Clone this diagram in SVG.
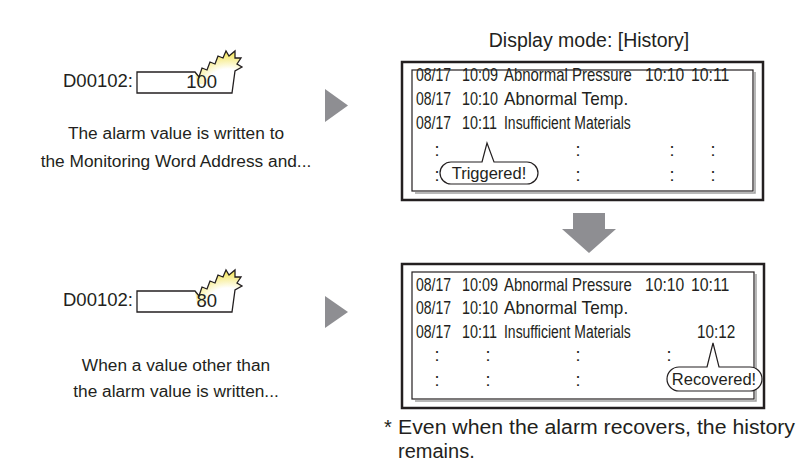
<svg xmlns="http://www.w3.org/2000/svg" width="800" height="464" viewBox="0 0 800 464">
<defs>
<radialGradient id="burst" cx="0.7" cy="0.95" r="0.9">
<stop offset="0" stop-color="#ffffff"/>
<stop offset="0.45" stop-color="#ffffff"/>
<stop offset="1" stop-color="#f3e45a"/>
</radialGradient>
<style>
text{font-family:"Liberation Sans",Arial,sans-serif;fill:#231f20}
.lbl{font-size:18.5px}
.para{font-size:17.3px;text-anchor:middle}
.tb{font-size:18px}
.col{font-size:18px;text-anchor:middle}
.bub{font-size:16.5px;text-anchor:middle}
.frame{fill:#fff;stroke:#231f20;stroke-width:2.5}
.inner{fill:#fff;stroke:#231f20;stroke-width:1.2}
.shadow{fill:none;stroke:#a0a0a0;stroke-width:1.5}
.arrow{fill:#8e8e92}
.bubble{fill:#fff;stroke:#231f20;stroke-width:1.2}
.edge{fill:none;stroke:#231f20;stroke-width:1.3}
</style>
</defs>

<g id="value1">
<text class="lbl" x="63" y="87">D00102:</text>
<path d="M137,72 H195 L199,77 L202,68 L207,70 L210,62 L215,64 L218,56 L223,58 L226,51 L229,56 L235,51 L235,58 L241,58 L237,64 L242,67 L235,71 L232,93 H137 Z" fill="#fff"/>
<path d="M195,72 L199,77 L202,68 L207,70 L210,62 L215,64 L218,56 L223,58 L226,51 L229,56 L235,51 L235,58 L241,58 L237,64 L242,67 L235,71 L234,84 L197,84 Z" fill="url(#burst)"/>
<path class="edge" d="M137,72 H195 L199,77 L202,68 L207,70 L210,62 L215,64 L218,56 L223,58 L226,51 L229,56 L235,51 L235,58 L241,58 L237,64 L242,67 L235,71 L232,93 H137 Z"/>
<text class="lbl" x="217" y="88" text-anchor="end">100</text>
<text class="para" x="176" y="139">The alarm value is written to</text>
<text class="para" x="176" y="167">the Monitoring Word Address and...</text>
</g>

<g id="value2">
<text class="lbl" x="63" y="306">D00102:</text>
<path d="M137,291 H195 L199,296 L202,287 L207,289 L210,281 L215,283 L218,275 L223,277 L226,270 L229,275 L235,270 L235,277 L241,277 L237,283 L242,286 L235,290 L232,312 H137 Z" fill="#fff"/>
<path d="M195,291 L199,296 L202,287 L207,289 L210,281 L215,283 L218,275 L223,277 L226,270 L229,275 L235,270 L235,277 L241,277 L237,283 L242,286 L235,290 L234,303 L197,303 Z" fill="url(#burst)"/>
<path class="edge" d="M137,291 H195 L199,296 L202,287 L207,289 L210,281 L215,283 L218,275 L223,277 L226,270 L229,275 L235,270 L235,277 L241,277 L237,283 L242,286 L235,290 L232,312 H137 Z"/>
<text class="lbl" x="217" y="307" text-anchor="end">80</text>
<text class="para" x="176" y="371">When a value other than</text>
<text class="para" x="176" y="397">the alarm value is written...</text>
</g>

<g id="connectors">
<polygon class="arrow" points="325,89 325,122 348,105.5"/>
<polygon class="arrow" points="325,296 325,328 348,312"/>
<polygon class="arrow" points="573,213 605,213 605,229 616,229 589,253 562,229 573,229"/>
</g>

<text id="title" x="589" y="47" style="font-size:19.5px" text-anchor="middle">Display mode: [History]</text>

<g id="panel1">
<rect class="frame" x="402" y="62" width="361" height="138"/>
<path class="shadow" d="M755,72 V193 H415"/>
<rect class="inner" x="412" y="70" width="341" height="121"/>
<text class="tb" transform="translate(416,81) scale(0.78,1)">08/17</text>
<text class="tb" transform="translate(462,81) scale(0.8,1)">10:09</text>
<text class="tb" transform="translate(504,81) scale(0.83,1)">Abnormal Pressure</text>
<text class="tb" transform="translate(645,81) scale(0.87,1)">10:10</text>
<text class="tb" transform="translate(691,81) scale(0.88,1)">10:11</text>
<text class="tb" transform="translate(416,105) scale(0.78,1)">08/17</text>
<text class="tb" transform="translate(462,105) scale(0.8,1)">10:10</text>
<text class="tb" transform="translate(504,105) scale(0.95,1)">Abnormal Temp.</text>
<text class="tb" transform="translate(416,129) scale(0.78,1)">08/17</text>
<text class="tb" transform="translate(462,129) scale(0.8,1)">10:11</text>
<text class="tb" transform="translate(504,129) scale(0.775,1)">Insufficient Materials</text>
<text class="col" x="437" y="156">:</text>
<text class="col" x="578" y="156">:</text>
<text class="col" x="672" y="156">:</text>
<text class="col" x="713" y="156">:</text>
<text class="col" x="437" y="181">:</text>
<text class="col" x="578" y="181">:</text>
<text class="col" x="672" y="181">:</text>
<text class="col" x="713" y="181">:</text>
<path class="bubble" d="M482,162 L487,143 L494,162 H527 A11,11 0 0 1 527,184 H451 A11,11 0 0 1 451,162 Z"/>
<text class="bub" x="489" y="179">Triggered!</text>
</g>

<g id="panel2">
<rect class="frame" x="402" y="264" width="362" height="144"/>
<path class="shadow" d="M756,274 V401 H415"/>
<rect class="inner" x="412" y="272" width="342" height="127"/>
<text class="tb" transform="translate(416,291) scale(0.78,1)">08/17</text>
<text class="tb" transform="translate(462,291) scale(0.8,1)">10:09</text>
<text class="tb" transform="translate(504,291) scale(0.83,1)">Abnormal Pressure</text>
<text class="tb" transform="translate(645,291) scale(0.87,1)">10:10</text>
<text class="tb" transform="translate(691,291) scale(0.88,1)">10:11</text>
<text class="tb" transform="translate(416,314) scale(0.78,1)">08/17</text>
<text class="tb" transform="translate(462,314) scale(0.8,1)">10:10</text>
<text class="tb" transform="translate(504,314) scale(0.95,1)">Abnormal Temp.</text>
<text class="tb" transform="translate(416,338) scale(0.78,1)">08/17</text>
<text class="tb" transform="translate(462,338) scale(0.8,1)">10:11</text>
<text class="tb" transform="translate(504,338) scale(0.775,1)">Insufficient Materials</text>
<text class="tb" transform="translate(697,338) scale(0.85,1)">10:12</text>
<text class="col" x="437" y="361">:</text>
<text class="col" x="488" y="361">:</text>
<text class="col" x="578" y="361">:</text>
<text class="col" x="669" y="361">:</text>
<text class="col" x="437" y="386">:</text>
<text class="col" x="488" y="386">:</text>
<text class="col" x="578" y="386">:</text>
<path class="bubble" d="M707,367 L713,343 L719,367 H750 A12,12 0 0 1 750,391 H679 A12,12 0 0 1 679,367 Z"/>
<text class="bub" x="714" y="385">Recovered!</text>
</g>

<g id="note">
<text x="384" y="434" style="font-size:20px">*</text>
<text x="398" y="434" style="font-size:20px" textLength="397" lengthAdjust="spacingAndGlyphs">Even when the alarm recovers, the history</text>
<text x="398" y="458" style="font-size:20px">remains.</text>
</g>
</svg>
